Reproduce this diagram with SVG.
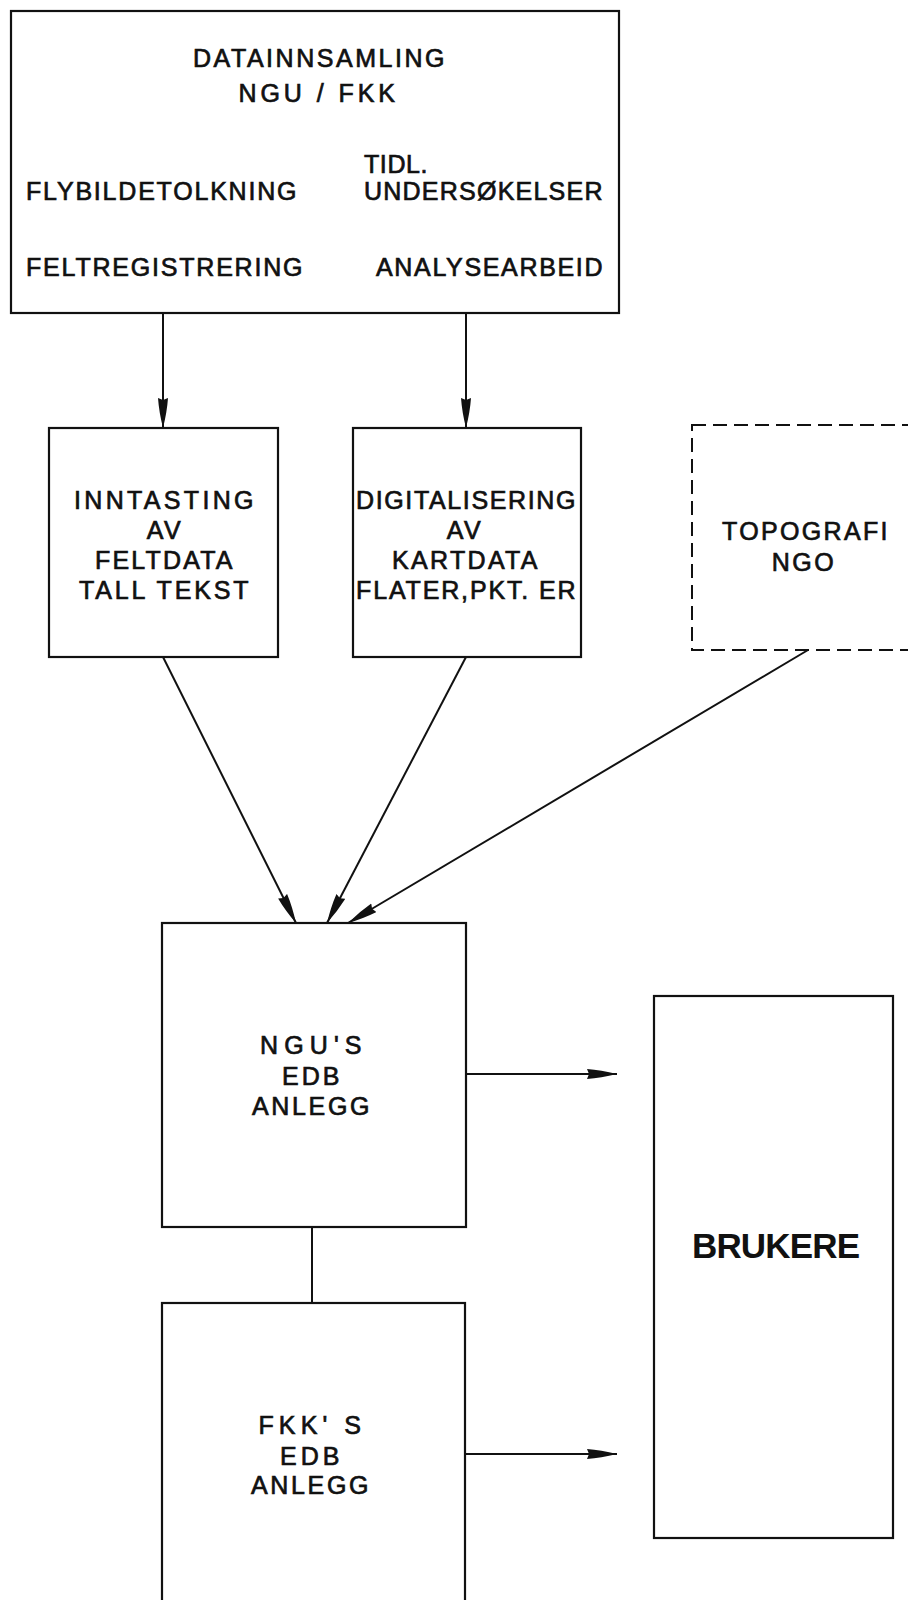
<svg xmlns="http://www.w3.org/2000/svg" width="908" height="1600" viewBox="0 0 908 1600">
<style>
.box{fill:#fff;stroke:#111;stroke-width:2.2}
.dash{fill:#fff;stroke:#111;stroke-width:2;stroke-dasharray:14 7}
.con{fill:none;stroke:#111;stroke-width:2}
.t{font-family:"Liberation Sans",Arial,sans-serif;font-size:25px;fill:#111;stroke:#111;stroke-width:0.7;letter-spacing:2.5px}
.c{text-anchor:middle}
.big{font-family:"Liberation Sans",Arial,sans-serif;font-size:35px;font-weight:bold;fill:#111;text-anchor:middle}
</style>
<defs>
<marker id="ah" markerUnits="userSpaceOnUse" viewBox="0 0 30 11" refX="30" refY="5.5" markerWidth="30" markerHeight="11" orient="auto">
<path d="M0,0.5 Q14,1.5 30,5.5 Q14,9.5 0,10.5 L2,5.5 Z" fill="#111"/>
</marker>
</defs>
<g id="connectors">
<line class="con" x1="163" y1="313" x2="163" y2="428" marker-end="url(#ah)"/>
<line class="con" x1="466" y1="313" x2="466" y2="428" marker-end="url(#ah)"/>
<line class="con" x1="163" y1="657" x2="296" y2="923" marker-end="url(#ah)"/>
<line class="con" x1="466" y1="657" x2="327" y2="923" marker-end="url(#ah)"/>
<line class="con" x1="808" y1="650" x2="348" y2="923" marker-end="url(#ah)"/>
<line class="con" x1="312" y1="1227" x2="312" y2="1303"/>
<line class="con" x1="466" y1="1074" x2="617" y2="1074" marker-end="url(#ah)"/>
<line class="con" x1="465" y1="1454" x2="617" y2="1454" marker-end="url(#ah)"/>
</g>
<g id="datainnsamling">
<rect class="box" x="11" y="11" width="608" height="302"/>
<text class="t c" x="320" y="67" textLength="254">DATAINNSAMLING</text>
<text class="t c" x="318" y="102" textLength="159">NGU / FKK</text>
<text class="t" x="364" y="173" textLength="66">TIDL.</text>
<text class="t" x="26" y="200" textLength="273">FLYBILDETOLKNING</text>
<text class="t" x="364" y="200" textLength="241">UNDERSØKELSER</text>
<text class="t" x="26" y="276" textLength="279">FELTREGISTRERING</text>
<text class="t" x="376" y="276" textLength="229">ANALYSEARBEID</text>
</g>
<g id="inntasting">
<rect class="box" x="49" y="428" width="229" height="229"/>
<text class="t c" x="165" y="509" textLength="182">INNTASTING</text>
<text class="t c" x="165" y="539">AV</text>
<text class="t c" x="165" y="569" textLength="140">FELTDATA</text>
<text class="t c" x="165" y="599" textLength="172">TALL TEKST</text>
</g>
<g id="digitalisering">
<rect class="box" x="353" y="428" width="228" height="229"/>
<text class="t c" x="467" y="509" textLength="222">DIGITALISERING</text>
<text class="t c" x="465" y="539">AV</text>
<text class="t c" x="466" y="569" textLength="148">KARTDATA</text>
<text class="t c" x="467" y="599" textLength="222">FLATER,PKT. ER</text>
</g>
<g id="topografi">
<rect class="dash" x="692" y="425" width="240" height="225"/>
<text class="t c" x="806" y="540" textLength="168">TOPOGRAFI</text>
<text class="t c" x="804" y="571">NGO</text>
</g>
<g id="ngu-edb">
<rect class="box" x="162" y="923" width="304" height="304"/>
<text class="t c" x="312" y="1054" textLength="104">NGU'S</text>
<text class="t c" x="312" y="1085" textLength="60">EDB</text>
<text class="t c" x="312" y="1115" textLength="120">ANLEGG</text>
</g>
<g id="fkk-edb">
<rect class="box" x="162" y="1303" width="303" height="320"/>
<text class="t c" x="311" y="1434" textLength="105">FKK' S</text>
<text class="t c" x="311" y="1465" textLength="62">EDB</text>
<text class="t c" x="311" y="1494" textLength="120">ANLEGG</text>
</g>
<g id="brukere">
<rect class="box" x="654" y="996" width="239" height="542"/>
<text class="big" x="776" y="1258" textLength="168">BRUKERE</text>
</g>
</svg>
